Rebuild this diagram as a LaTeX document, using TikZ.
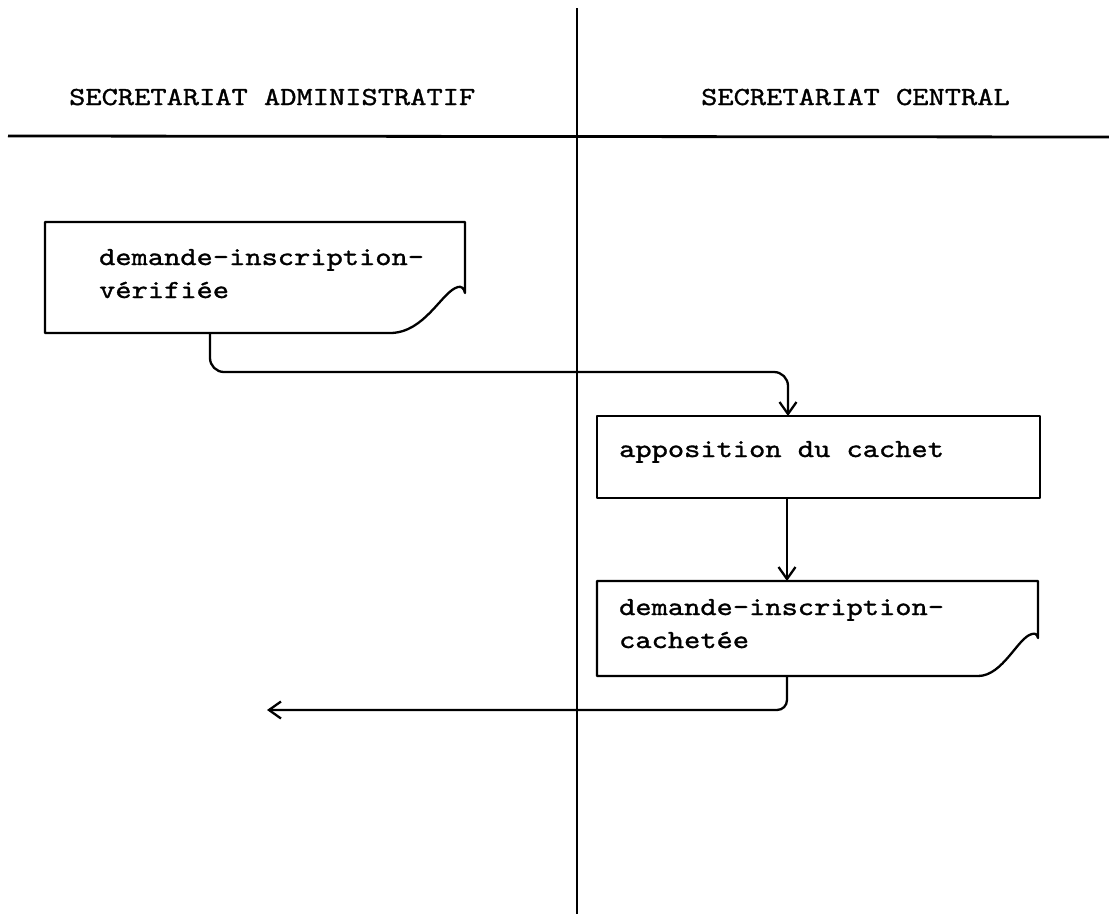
\documentclass[tikz,border=0pt]{standalone}
\usepackage{fontspec}
\setmonofont{lmmono10-regular.otf}[FakeStretch=1.19,FakeBold=1.2]
\usetikzlibrary{arrows.meta}
\begin{document}
\begin{tikzpicture}[x=1pt,y=-1pt,line width=2.3pt,line join=round,
  txt/.style={font=\ttfamily\fontsize{26}{33}\selectfont,inner sep=0pt,align=left},
  frame/.style={inner sep=0pt,outer sep=0pt,anchor=north west},
  flow/.style={-{Straight Barb[length=12pt,width=17pt,line width=2.3pt]},rounded corners=14pt}]
\useasboundingbox (0,0) rectangle (1109,914);
% swimlane lines
\coordinate (vtop) at (577,8);
\coordinate (vbot) at (577,914);
\coordinate (hl) at (8,136);
\coordinate (hr) at (1109,137);
\draw (vtop) -- (vbot);
\draw[line width=2.8pt] (hl) -- (hr);
\node[txt,anchor=base west] (h1) at (68,105) {SECRETARIAT ADMINISTRATIF};
\node[txt,anchor=base west] (h2) at (700,105) {SECRETARIAT CENTRAL};
% document 1
\node[frame,minimum width=420pt,minimum height=111pt] (d1) at (45,222) {};
\draw (390,333) -- (45,333) -- (45,222) -- (465,222) -- (465,293)
  .. controls (464,288) and (461,286) .. (458,287)
  .. controls (442,291) and (425,333) .. (390,333);
\node[txt,anchor=base west] (t1) at (98,298) {demande-inscription-\\vérifiée};
% process box
\node[frame,draw,minimum width=443pt,minimum height=82pt] (b2) at (597,416) {};
\node[txt,anchor=base west] (t2) at (618,457) {apposition du cachet};
% document 2
\node[frame,minimum width=441pt,minimum height=95pt] (b3) at (597,581) {};
\draw (980,676) -- (597,676) -- (597,581) -- (1038,581) -- (1038,638)
  .. controls (1037,634) and (1035,633) .. (1032,634)
  .. controls (1018,637) and (1003,676) .. (978,676);
\node[txt,anchor=base west] (t3) at (618,648) {demande-inscription-\\cachetée};
% connectors
\coordinate (ret) at (267,710);
\draw[flow] ([xshift=165pt]d1.south west) -- ++(0,39) -| ([xshift=191pt]b2.north west);
\draw[flow] ([xshift=190pt]b2.south west) -- ([xshift=190pt]b3.north west);
\draw[flow,rounded corners=10pt] ([xshift=190pt]b3.south west) |- (ret);
\end{tikzpicture}
\end{document}
